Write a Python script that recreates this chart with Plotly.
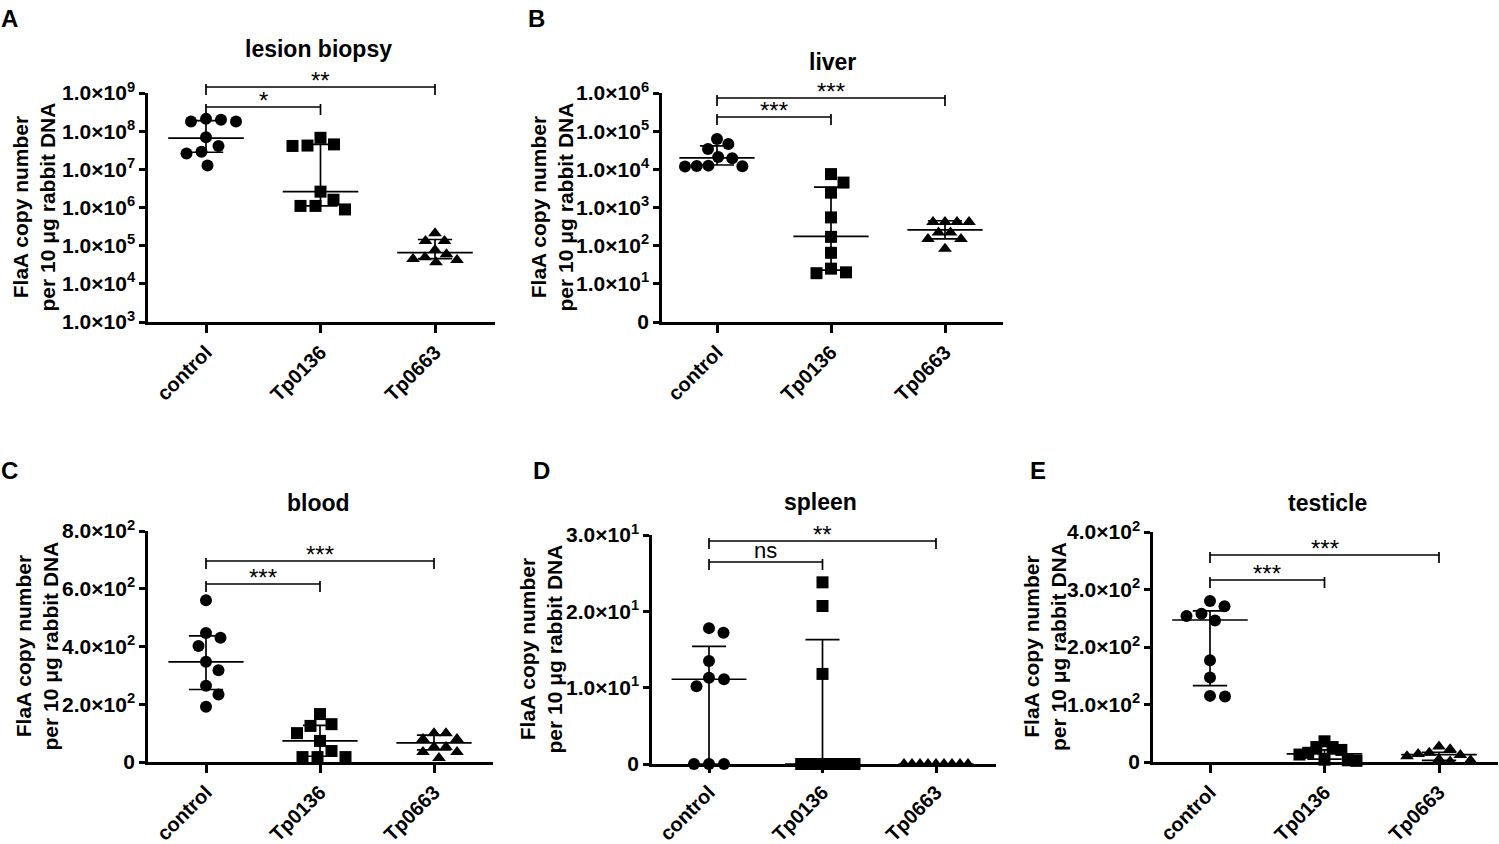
import numpy as np
import plotly.graph_objects as go

W, H = 1499, 844
FONT = "Liberation Sans, Arial, sans-serif"

groups = ["control", "Tp0136", "Tp0663"]

# A - lesion biopsy (log axis)
lesion_control = [1.8e8, 1.8e8, 2.0e8, 2.1e8, 6.9e7, 4.1e7, 2.9e7, 2.6e7, 1.26e7]
lesion_tp0136 = [6.7e7, 4.2e7, 4.1e7, 4.5e7, 2.6e6, 1.1e6, 8.9e5, 1.1e6, 1.6e6]
lesion_tp0663 = [2.1e5, 1.32e5, 1.32e5, 7.7e4, 6.0e4, 5.0e4, 4.5e4, 4.2e4, 3.7e4]
lesion_median = [6.6e7, 2.6e6, 6.6e4]
lesion_q1 = [2.8e7, 1.1e6, 4.6e4]
lesion_q3 = [1.9e8, 4.5e7, 1.45e5]
lesion_sig = ["*", "**"]
lesion_ticks = [1e3, 1e4, 1e5, 1e6, 1e7, 1e8, 1e9]
lesion_ticktext = ["1.0×10<sup>3</sup>", "1.0×10<sup>4</sup>", "1.0×10<sup>5</sup>",
                   "1.0×10<sup>6</sup>", "1.0×10<sup>7</sup>", "1.0×10<sup>8</sup>",
                   "1.0×10<sup>9</sup>"]

# B - liver (log axis, bottom tick shown as 0)
liver_control = [6.2e4, 4.6e4, 3.4e4, 2.1e4, 1.95e4, 1.23e4, 1.18e4, 1.2e4, 1.25e4]
liver_tp0136 = [7.5e3, 4.5e3, 2.45e3, 5.5e2, 1.7e2, 65, 25, 19, 20]
liver_tp0663 = [4.2e2, 4.2e2, 4.2e2, 4.2e2, 2.2e2, 2.2e2, 1.5e2, 1.5e2, 83]
liver_median = [2.0e4, 1.75e2, 2.6e2]
liver_q1 = [1.3e4, 23, 1.5e2]
liver_q3 = [4.1e4, 3.4e3, 4.5e2]
liver_sig = ["***", "***"]
liver_ticks = [1, 1e1, 1e2, 1e3, 1e4, 1e5, 1e6]
liver_ticktext = ["0", "1.0×10<sup>1</sup>", "1.0×10<sup>2</sup>", "1.0×10<sup>3</sup>",
                  "1.0×10<sup>4</sup>", "1.0×10<sup>5</sup>", "1.0×10<sup>6</sup>"]

# C - blood
blood_control = [560, 447, 430, 402, 347, 318, 264, 234, 191]
blood_tp0136 = [166, 131, 125, 100, 73, 38, 17, 17, 17]
blood_tp0663 = [100, 100, 80, 80, 52, 52, 35, 35, 14]
blood_median = [347, 73, 66]
blood_q1 = [251, 20, 42]
blood_q3 = [437, 127, 93]
blood_sig = ["***", "***"]
blood_ticks = [0, 200, 400, 600, 800]
blood_ticktext = ["0", "2.0×10<sup>2</sup>", "4.0×10<sup>2</sup>", "6.0×10<sup>2</sup>",
                  "8.0×10<sup>2</sup>"]

# D - spleen
spleen_control = [17.8, 17.2, 13.5, 11.1, 11.3, 10.2, 0, 0, 0]
spleen_tp0136 = [23.8, 20.7, 11.8, 0, 0, 0, 0, 0, 0]
spleen_tp0663 = [0, 0, 0, 0, 0, 0, 0, 0, 0]
spleen_median = [11.1, 0, 0]
spleen_q1 = [0, 0, 0]
spleen_q3 = [15.4, 16.3, 0]
spleen_sig = ["ns", "**"]
spleen_ticks = [0, 10, 20, 30]
spleen_ticktext = ["0", "1.0×10<sup>1</sup>", "2.0×10<sup>1</sup>", "3.0×10<sup>1</sup>"]

# E - testicle
testicle_control = [280, 271, 258, 254, 246, 177, 147, 114, 115]
testicle_tp0136 = [36, 26, 26, 21, 16, 13, 3, 2, 4]
testicle_tp0663 = [27, 22, 16, 14, 12, 10, 5, 3, 1]
testicle_median = [247, 14, 13]
testicle_q1 = [133, 5, 3]
testicle_q3 = [263, 21, 17]
testicle_sig = ["***", "***"]
testicle_ticks = [0, 100, 200, 300, 400]
testicle_ticktext = ["0", "1.0×10<sup>2</sup>", "2.0×10<sup>2</sup>", "3.0×10<sup>2</sup>",
                     "4.0×10<sup>2</sup>"]

# layout in pixels: box = (axis left, axis right end, axis top, axis bottom)
panels = [
    dict(title="lesion biopsy", letter="A",
         values=[lesion_control, lesion_tp0136, lesion_tp0663],
         median=lesion_median, q1=lesion_q1, q3=lesion_q3, sig=lesion_sig,
         log=True, yrange=[3, 9], ticks=lesion_ticks, ticktext=lesion_ticktext,
         box=(148, 495, 93, 322), cat=(206, 114.5), br=(107, 87), xticklen=8,
         title_xy=(318, 49), letter_xy=(-1, 18), ytitle_x=34),
    dict(title="liver", letter="B",
         values=[liver_control, liver_tp0136, liver_tp0663],
         median=liver_median, q1=liver_q1, q3=liver_q3, sig=liver_sig,
         log=True, yrange=[0, 6], ticks=liver_ticks, ticktext=liver_ticktext,
         box=(662, 1003, 93, 322), cat=(717, 114), br=(117, 98), xticklen=8,
         title_xy=(832, 62), letter_xy=(526, 18), ytitle_x=552),
    dict(title="blood", letter="C",
         values=[blood_control, blood_tp0136, blood_tp0663],
         median=blood_median, q1=blood_q1, q3=blood_q3, sig=blood_sig,
         log=False, yrange=[0, 800], ticks=blood_ticks, ticktext=blood_ticktext,
         box=(148, 493, 531, 762), cat=(206, 114), br=(584, 561), xticklen=8,
         title_xy=(318, 503), letter_xy=(-1, 470), ytitle_x=36),
    dict(title="spleen", letter="D",
         values=[spleen_control, spleen_tp0136, spleen_tp0663],
         median=spleen_median, q1=spleen_q1, q3=spleen_q3, sig=spleen_sig,
         log=False, yrange=[0, 30], ticks=spleen_ticks, ticktext=spleen_ticktext,
         box=(652, 996, 535, 764), cat=(709, 113.5), br=(562, 541), xticklen=6,
         title_xy=(820, 502), letter_xy=(531, 470), ytitle_x=540),
    dict(title="testicle", letter="E",
         values=[testicle_control, testicle_tp0136, testicle_tp0663],
         median=testicle_median, q1=testicle_q1, q3=testicle_q3, sig=testicle_sig,
         log=False, yrange=[0, 400], ticks=testicle_ticks, ticktext=testicle_ticktext,
         box=(1153, 1498, 532, 762), cat=(1210, 114.5), br=(580, 555), xticklen=8,
         title_xy=(1327, 503), letter_xy=(1028, 470), ytitle_x=1045),
]

symbols = ["circle", "square", "triangle-up"]
sizes = [12, 12, 12]
spacing = [15, 15, 12]
MAX_SPREAD = 32  # px, half width of a column of points


def py(p):
    return 1 - p / H


def swarm(ypix, diam, maxoff=60):
    # greedy beeswarm in pixel space, GraphPad-style spread
    cands = [0.0]
    for k in np.arange(0.5, maxoff, 0.5):
        cands += [k, -k]
    placed = []
    offs = [0.0] * len(ypix)
    for i in sorted(range(len(ypix)), key=lambda j: ypix[j]):
        y = ypix[i]
        for c in cands:
            if all((c - ox) ** 2 + (y - oy) ** 2 >= diam ** 2 for ox, oy in placed):
                break
        placed.append((c, y))
        offs[i] = c
    widest = max(abs(o) for o in offs)
    if widest > MAX_SPREAD:
        offs = [o * MAX_SPREAD / widest for o in offs]
    return offs


fig = go.Figure()
layout = {}
shapes = []
annotations = []
ytickfont = dict(family=FONT, size=21, color="black", weight="bold")
xtickfont = dict(family=FONT, size=20, color="black", weight="bold")

for k, p in enumerate(panels, start=1):
    sfx = "" if k == 1 else str(k)
    xname, yname = "x" + sfx, "y" + sfx
    x0, x1, ytop, ybot = p["box"]
    c0, sp = p["cat"]
    r0, r1 = p["yrange"]

    for g, vals in enumerate(p["values"]):
        v = np.array(vals, dtype=float)
        f = np.log10(v) if p["log"] else v
        ypix = ybot - (f - r0) / (r1 - r0) * (ybot - ytop)
        offs = swarm(list(ypix), spacing[g])
        fig.add_trace(go.Scatter(
            x=[g + o / sp for o in offs], y=vals, mode="markers",
            marker=dict(symbol=symbols[g], size=sizes[g], color="black", line=dict(width=0)),
            xaxis=xname, yaxis=yname, cliponaxis=False, hoverinfo="y",
        ))
        med, lo, hi = p["median"][g], p["q1"][g], p["q3"][g]
        fig.add_trace(go.Scatter(
            x=[g - 0.33, g + 0.33, None, g - 0.15, g + 0.15, None,
               g - 0.15, g + 0.15, None, g, g],
            y=[med, med, None, hi, hi, None, lo, lo, None, lo, hi],
            mode="lines", line=dict(color="black", width=1.7),
            xaxis=xname, yaxis=yname, cliponaxis=False, hoverinfo="skip",
        ))

    layout["xaxis" + sfx] = dict(
        domain=[x0 / W, x1 / W], anchor=yname, range=[(x0 - c0) / sp, (x1 - c0) / sp],
        tickvals=[0, 1, 2], ticktext=groups, tickangle=-45, automargin=False,
        showline=True, linecolor="black", linewidth=2.5,
        ticks="outside", ticklen=p["xticklen"], tickwidth=2.5, tickcolor="black",
        showgrid=False, zeroline=False, tickfont=xtickfont,
    )
    layout["yaxis" + sfx] = dict(
        domain=[py(ybot), py(ytop)], anchor=xname, range=[r0, r1], automargin=False,
        type="log" if p["log"] else "linear",
        tickvals=p["ticks"], ticktext=p["ticktext"],
        showline=True, linecolor="black", linewidth=2.5,
        ticks="outside", ticklen=6, tickwidth=2.5, tickcolor="black",
        showgrid=False, zeroline=False, tickfont=ytickfont,
    )

    # significance brackets: control vs Tp0136 (lower), control vs Tp0663 (upper)
    for (target, label, ypx) in [(1, p["sig"][0], p["br"][0]), (2, p["sig"][1], p["br"][1])]:
        line = dict(color="black", width=1.7)
        shapes.append(dict(type="line", xref=xname, yref="paper", x0=0, x1=target,
                           y0=py(ypx), y1=py(ypx), line=line))
        for xe in (0, target):
            shapes.append(dict(type="line", xref=xname, yref="paper", x0=xe, x1=xe,
                               y0=py(ypx - 3), y1=py(ypx + 8), line=line))
        star = "*" in label
        annotations.append(dict(
            text=label, x=target / 2, xref=xname, y=py(ypx), yref="paper",
            yanchor="bottom", xanchor="center", showarrow=False,
            yshift=-9 if star else -3,
            font=dict(family=FONT, size=24 if star else 22, color="black"),
        ))

    tx, ty = p["title_xy"]
    annotations.append(dict(
        text=p["title"], x=tx / W, y=py(ty), xref="paper", yref="paper",
        xanchor="center", yanchor="middle", showarrow=False,
        font=dict(family=FONT, size=23, color="black", weight="bold"),
    ))
    lx, ly = p["letter_xy"]
    annotations.append(dict(
        text=p["letter"], x=lx / W, y=py(ly), xref="paper", yref="paper",
        xanchor="left", yanchor="middle", showarrow=False,
        font=dict(family=FONT, size=24, color="black", weight="bold"),
    ))
    annotations.append(dict(
        text="FlaA copy number<br>per 10 μg rabbit DNA",
        x=p["ytitle_x"] / W, y=py((ytop + ybot) / 2), xref="paper", yref="paper",
        xanchor="center", yanchor="middle", textangle=-90, showarrow=False,
        font=dict(family=FONT, size=21, color="black", weight="bold"),
    ))

fig.update_layout(
    width=W, height=H, margin=dict(l=0, r=0, t=0, b=0, autoexpand=False),
    paper_bgcolor="white", plot_bgcolor="white", showlegend=False,
    shapes=shapes, annotations=annotations, **layout,
)

# the page body has a default 8px margin; drop it so the figure fills the window
fig.write_html("out.html", config={"displayModeBar": False},
               post_script="document.body.style.margin='0';")
